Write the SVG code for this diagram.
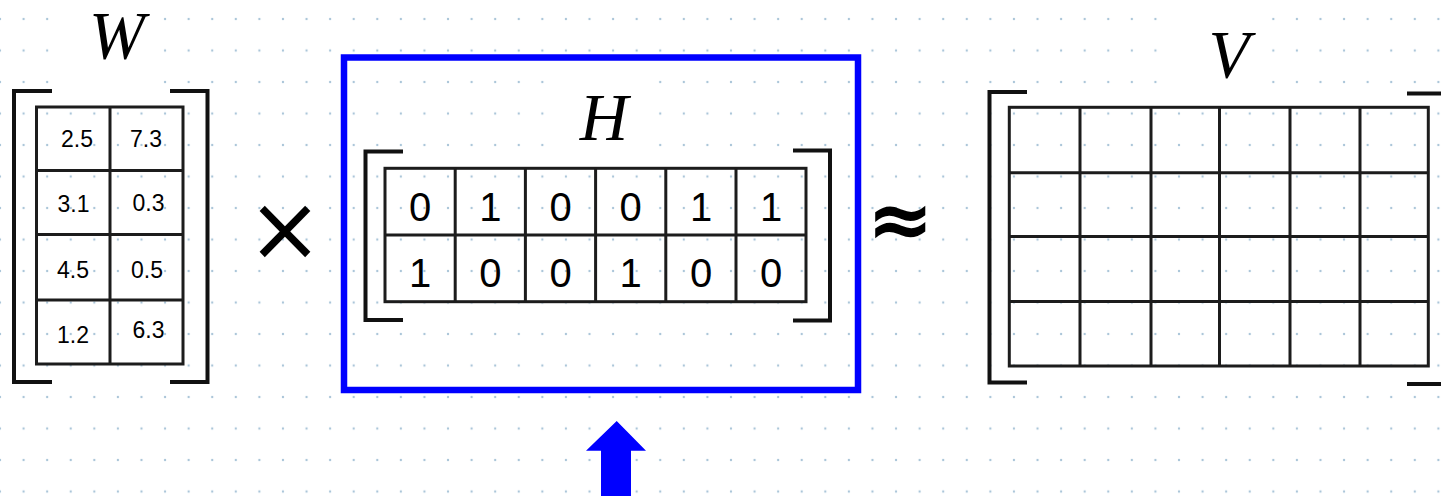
<svg xmlns="http://www.w3.org/2000/svg" width="1441" height="496" viewBox="0 0 1441 496">
  <style>
    .grid { stroke: #1c1c1c; stroke-width: 3; fill: none; }
    .brk { stroke: #111; stroke-width: 4; fill: none; }
    .lbl { font-family: "Liberation Serif", serif; font-style: italic; font-size: 67px; fill: #000; text-anchor: middle; }
    .wnum { font-family: "Liberation Sans", Arial, sans-serif; font-size: 23px; fill: #000; text-anchor: middle; }
    .hnum { font-family: "Liberation Sans", Arial, sans-serif; font-size: 40px; fill: #000; text-anchor: middle; }
    .op { font-family: "DejaVu Sans", sans-serif; fill: #000; text-anchor: middle; }
  </style>
  <defs>
    <pattern id="dots" patternUnits="userSpaceOnUse" x="-11.79" y="3.25" width="23.58" height="31.5">
      <circle cx="11.79" cy="15.75" r="1.15" fill="#a9c5d8"/>
    </pattern>
  </defs>
  <rect width="1441" height="496" fill="#fff"/>
  <rect width="1441" height="496" fill="url(#dots)"/>

  <g id="W">
    <rect x="60" y="5" width="102" height="90" fill="#fff"/>
    <text class="lbl" x="117" y="58">W</text>
    <path class="brk" d="M52,91 H14 V382 H52"/>
    <path class="brk" d="M170,91 H207.5 V382 H170"/>
    <rect class="grid" x="36.5" y="107" width="146.5" height="257"/>
    <path class="grid" d="M110,107 V364 M36.5,170.5 H183 M36.5,234.5 H183 M36.5,300 H183"/>
    <text class="wnum" x="77" y="146.5">2.5</text>
    <text class="wnum" x="146" y="146.5">7.3</text>
    <text class="wnum" x="73.5" y="211.5">3.1</text>
    <text class="wnum" x="148.5" y="210.5">0.3</text>
    <text class="wnum" x="73" y="278">4.5</text>
    <text class="wnum" x="147" y="278">0.5</text>
    <text class="wnum" x="73" y="342.5">1.2</text>
    <text class="wnum" x="148.5" y="338">6.3</text>
  </g>

  <g id="times">
    <text class="op" x="285" y="260" font-size="90">×</text>
  </g>

  <g id="H">
    <rect x="344" y="57.5" width="514" height="332.5" fill="none" stroke="#0000ff" stroke-width="6.5"/>
    <rect x="555" y="66" width="95" height="92" fill="#fff"/>
    <text class="lbl" x="604" y="140">H</text>
    <path class="brk" d="M403,151.5 H365.5 V320 H403"/>
    <path class="brk" d="M793,150.5 H830 V320.5 H793"/>
    <rect class="grid" x="385" y="168.3" width="421" height="133.4"/>
    <path class="grid" d="M455.2,168.3 V301.7 M525.4,168.3 V301.7 M595.6,168.3 V301.7 M665.8,168.3 V301.7 M736,168.3 V301.7 M385,235 H806"/>
    <text class="hnum" x="420" y="220.5">0</text>
    <text class="hnum" x="490.3" y="220.5">1</text>
    <text class="hnum" x="560.5" y="220.5">0</text>
    <text class="hnum" x="630.7" y="220.5">0</text>
    <text class="hnum" x="701" y="220.5">1</text>
    <text class="hnum" x="771" y="220.5">1</text>
    <text class="hnum" x="420" y="287">1</text>
    <text class="hnum" x="490.3" y="287">0</text>
    <text class="hnum" x="560.5" y="287">0</text>
    <text class="hnum" x="630.7" y="287">1</text>
    <text class="hnum" x="701" y="287">0</text>
    <text class="hnum" x="771" y="287">0</text>
  </g>

  <g id="approx">
    <text class="op" x="900" y="247" font-size="80" font-weight="bold">≈</text>
  </g>

  <g id="V">
    <rect x="1166" y="5" width="96" height="93" fill="#fff"/>
    <text class="lbl" x="1229" y="77">V</text>
    <path class="brk" d="M1027,92 H989.5 V382.5 H1027"/>
    <path class="brk" d="M1407,93.5 H1446 V384 H1407"/>
    <rect class="grid" x="1009.3" y="107.3" width="419" height="258.7"/>
    <path class="grid" d="M1080,107.3 V366 M1151,107.3 V366 M1219.5,107.3 V366 M1290,107.3 V366 M1360,107.3 V366 M1009.3,172.7 H1428.3 M1009.3,236.5 H1428.3 M1009.3,301.5 H1428.3"/>
  </g>

  <g id="connectors">
    <polygon points="616.7,421 646,450.7 631,450.7 631,496 601,496 601,450.7 586,450.7" fill="#0000ff"/>
  </g>
</svg>
